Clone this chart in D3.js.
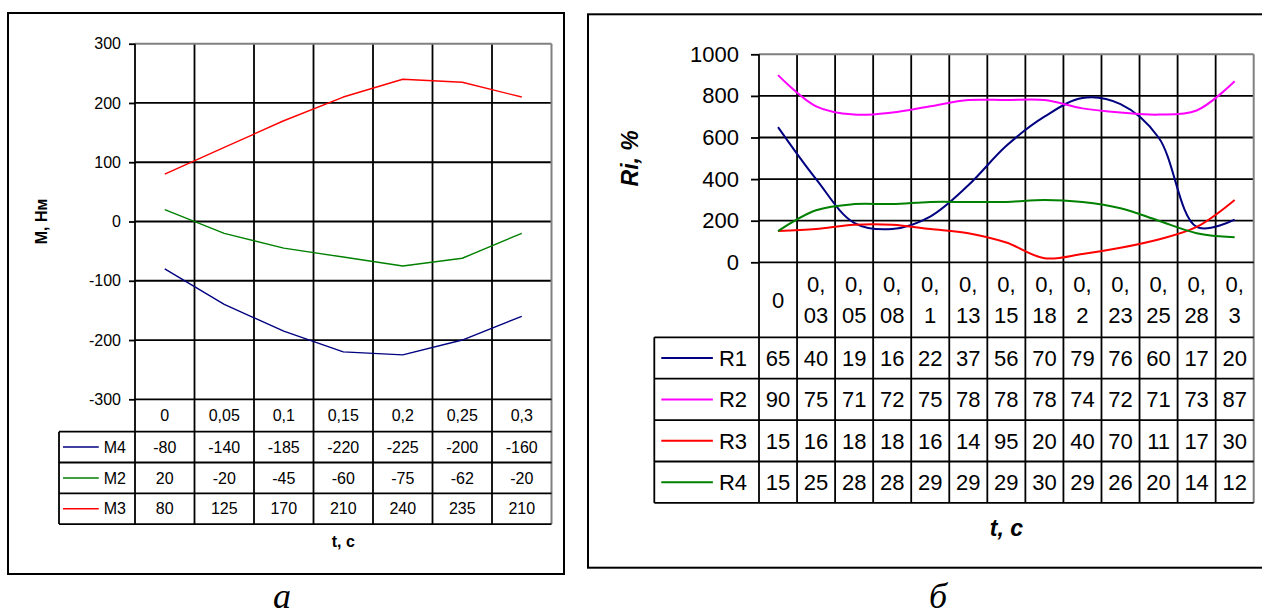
<!DOCTYPE html>
<html><head><meta charset="utf-8">
<script src="https://cdn.jsdelivr.net/npm/d3@7"></script>
<style>body{margin:0;background:#fff}svg{display:block}</style>
</head><body>
<script>
// ---------- data: chart a ----------
const leftCategories = ["0", "0,05", "0,1", "0,15", "0,2", "0,25", "0,3"];
const leftNames = ["M4", "M2", "M3"];
const m4 = [-80, -140, -185, -220, -225, -200, -160];
const m2 = [20, -20, -45, -60, -75, -62, -20];
const m3 = [80, 125, 170, 210, 240, 235, 210];
const leftTicks = [-300, -200, -100, 0, 100, 200, 300];
const leftColors = ["#000080", "#008000", "#ff0000"];

// ---------- data: chart б ----------
const rightCategories = ["0", "0,03", "0,05", "0,08", "0,1", "0,13", "0,15", "0,18", "0,2", "0,23", "0,25", "0,28", "0,3"];
const rightNames = ["R1", "R2", "R3", "R4"];
const r1 = [650, 400, 190, 160, 220, 370, 560, 700, 790, 760, 600, 170, 205];
const r2 = [900, 750, 710, 720, 750, 780, 780, 780, 740, 720, 710, 730, 870];
const r3 = [150, 160, 180, 180, 160, 140, 95, 20, 40, 70, 110, 170, 300];
const r4 = [150, 250, 280, 280, 290, 290, 290, 300, 290, 260, 200, 140, 120];
const rightTicks = [0, 200, 400, 600, 800, 1000];
const rightColors = ["#000080", "#ff00ff", "#ff0000", "#008000"];

const FONT = "'Liberation Sans', Arial, sans-serif";
const svg = d3.select("body").append("svg").attr("width", 1262).attr("height", 616);

function panel(o) {
  const g = svg.append("g");
  g.append("rect").attr("x", o.box[0]).attr("y", o.box[1]).attr("width", o.box[2]).attr("height", o.box[3])
    .attr("fill", "none").attr("stroke", "#000").attr("stroke-width", 2);

  const x = d3.scaleBand().domain(o.categories).range([o.left, o.right]).padding(0);
  const y = d3.scaleLinear().domain(o.yDomain).range([o.bottom, o.top]);
  const bw = x.bandwidth();
  const tableBottom = o.headerBottom + o.rowH * o.series.length;
  const LW = 1.8;
  const line = (x1, y1, x2, y2, c = "#000", w = LW) =>
    g.append("line").attr("x1", x1).attr("y1", y1).attr("x2", x2).attr("y2", y2).attr("stroke", c).attr("stroke-width", w);

  // horizontal gridlines
  g.append("g").selectAll("line").data(o.ticks.filter(t => t !== o.yDomain[1] && t !== o.yDomain[0])).join("line")
    .attr("x1", o.left).attr("x2", o.right).attr("y1", d => y(d)).attr("y2", d => y(d))
    .attr("stroke", "#000").attr("stroke-width", LW);
  // vertical column lines
  g.append("g").selectAll("line").data(o.categories.slice(1)).join("line")
    .attr("x1", d => x(d)).attr("x2", d => x(d)).attr("y1", o.top).attr("y2", tableBottom)
    .attr("stroke", "#000").attr("stroke-width", LW);
  // plot border top & right (grey)
  line(o.left, o.top, o.right, o.top, "#808080", 2);
  line(o.right, o.top, o.right, tableBottom, "#808080", 2);
  // axis line (left) + x axis line
  line(o.left, o.top, o.left, tableBottom);
  line(o.left, o.bottom, o.right, o.bottom);
  // table lines
  line(o.legendLeft, o.headerBottom, o.right, o.headerBottom);
  o.series.forEach((s, i) => line(o.legendLeft, o.headerBottom + o.rowH * (i + 1), o.right, o.headerBottom + o.rowH * (i + 1)));
  line(o.legendLeft, o.headerBottom, o.legendLeft, tableBottom);

  // y axis ticks & labels
  const ax = g.append("g").attr("transform", `translate(${o.left},0)`)
    .call(d3.axisLeft(y).tickValues(o.ticks).tickSize(o.tickLen).tickPadding(o.tickPad).tickFormat(d => String(d)));
  ax.select(".domain").remove();
  ax.selectAll(".tick line").attr("stroke", "#000").attr("stroke-width", LW);
  ax.selectAll(".tick text").attr("font-family", FONT).attr("font-size", o.font).attr("fill", "#000");

  // series lines
  const gen = d3.line().x((d, i) => x(o.categories[i]) + bw / 2).y(d => y(d)).curve(o.curve);
  o.series.forEach((s, i) => {
    g.append("path").attr("d", gen(s)).attr("fill", "none").attr("stroke", o.colors[i])
      .attr("stroke-width", o.seriesW).attr("stroke-linejoin", "round");
  });

  // header labels (categories)
  const hc = (o.bottom + o.headerBottom) / 2;
  const cap = 0.716 * o.font;
  o.categories.forEach(c => {
    const cx = x(c) + bw / 2;
    const t = g.append("text").attr("x", cx).attr("text-anchor", "middle").attr("font-family", FONT)
      .attr("font-size", o.font).attr("fill", "#000").text(c);
    if (t.node().getComputedTextLength() > bw - o.wrapPad && c.includes(",")) {
      const parts = [c.slice(0, c.indexOf(",") + 1), c.slice(c.indexOf(",") + 1)];
      const gap = o.font * 1.43;
      t.text(null);
      parts.forEach((p, k) => t.append("tspan").attr("x", cx).attr("y", hc - gap / 2 + cap / 2 + k * gap).text(p));
    } else {
      t.attr("y", hc + cap / 2);
    }
  });

  // data rows (text truncated to the cell width, as in the original data table)
  o.series.forEach((s, i) => {
    const rc = o.headerBottom + o.rowH * (i + 0.5);
    s.forEach((v, j) => {
      const t = g.append("text").attr("x", x(o.categories[j]) + bw / 2).attr("y", rc + cap / 2)
        .attr("text-anchor", "middle").attr("font-family", FONT).attr("font-size", o.font).attr("fill", "#000");
      let str = String(v);
      t.text(str);
      while (str.length > 1 && t.node().getComputedTextLength() > bw - o.wrapPad) {
        str = str.slice(0, -1); t.text(str);
      }
    });
    // legend
    const lt = g.append("text").attr("x", o.left - o.legendTextGap).attr("y", rc + cap / 2).attr("text-anchor", "end")
      .attr("font-family", FONT).attr("font-size", o.font).attr("fill", "#000").text(o.names[i]);
    const tw = lt.node().getComputedTextLength();
    line(o.legendLeft + o.keyInset, rc, o.left - o.legendTextGap - tw - o.keyGap, rc, o.colors[i], o.keyW);
  });

  // axis titles
  g.append("text").attr("transform", `translate(${o.yTitleX},${(o.top + o.bottom) / 2}) rotate(-90)`)
    .attr("text-anchor", "middle").attr("dy", "0.35em").attr("font-family", FONT).attr("font-size", o.titleFont)
    .attr("font-weight", "bold").attr("font-style", o.titleStyle).text(o.yTitle);
  g.append("text").attr("x", (o.left + o.right) / 2).attr("y", o.xTitleY).attr("dy", "0.35em")
    .attr("text-anchor", "middle").attr("font-family", FONT).attr("font-size", o.titleFont)
    .attr("font-weight", "bold").attr("font-style", o.titleStyle).text(o.xTitle);
  // caption
  g.append("text").attr("x", o.capX).attr("y", 608).attr("text-anchor", "middle")
    .attr("font-family", "'Liberation Serif', 'Times New Roman', serif").attr("font-style", "italic")
    .attr("font-size", 36).attr("fill", "#000").text(o.caption);
}

panel({
  box: [8, 13, 556, 561], categories: leftCategories, series: [m4, m2, m3], names: leftNames, colors: leftColors,
  left: 135, right: 551.5, top: 43.7, bottom: 399.3, yDomain: [-300, 300], ticks: leftTicks,
  headerBottom: 431.7, rowH: 30.8, legendLeft: 59, font: 16, tickLen: 6, tickPad: 8, wrapPad: 10,
  legendTextGap: 9, keyInset: 4, keyGap: 5, keyW: 1.5, seriesW: 1.4, curve: d3.curveLinear,
  yTitle: "М, Нм", yTitleX: 41, xTitle: "t, c", xTitleY: 541, titleFont: 16, titleStyle: "normal",
  caption: "а", capX: 282
});

panel({
  box: [588, 14.3, 700, 553.4], categories: rightCategories, series: [r1, r2, r3, r4], names: rightNames, colors: rightColors,
  left: 759, right: 1253.7, top: 54.3, bottom: 262.3, yDomain: [0, 1000], ticks: rightTicks,
  headerBottom: 337.3, rowH: 41.4, legendLeft: 654.3, font: 22, tickLen: 8, tickPad: 12, wrapPad: 8,
  legendTextGap: 12, keyInset: 7, keyGap: 6, keyW: 2, seriesW: 2, curve: d3.curveCatmullRom.alpha(0.5),
  yTitle: "Ri, %", yTitleX: 630, xTitle: "t, c", xTitleY: 528, titleFont: 23, titleStyle: "italic",
  caption: "б", capX: 938
});
</script>
</body></html>
